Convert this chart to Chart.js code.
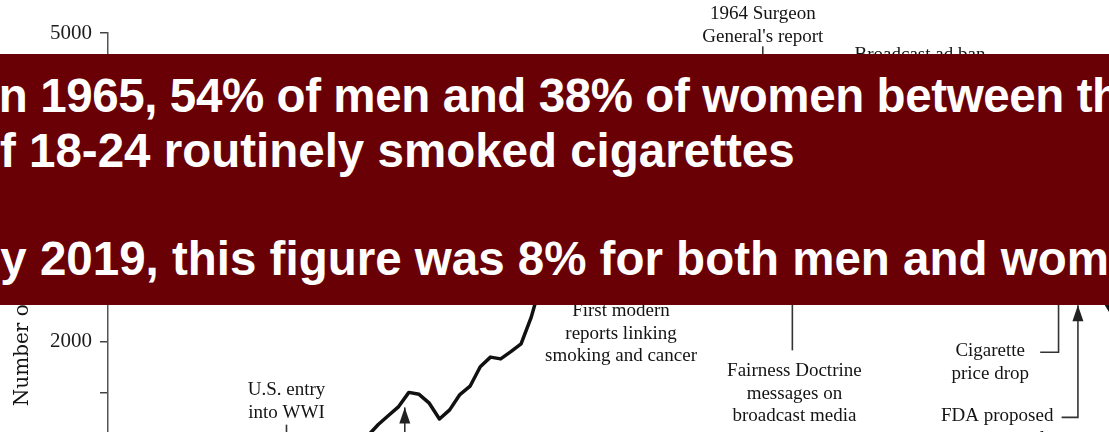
<!DOCTYPE html>
<html>
<head>
<meta charset="utf-8">
<script src="https://cdn.jsdelivr.net/npm/chart.js@4.4.0/dist/chart.umd.min.js"></script>
<style>
html, body { margin: 0; padding: 0; width: 1109px; height: 432px; overflow: hidden; background: #fff; }
#wrap { position: relative; width: 1109px; height: 432px; overflow: hidden; }
#smoking { position: absolute; left: 0; top: 0; }
#banner { position: absolute; left: 0; top: 54px; width: 1109px; height: 251px; background: #690005; overflow: hidden; }
#banner div { position: absolute; white-space: nowrap; color: #fff; font: bold 47.5px "Liberation Sans", Arial, sans-serif; line-height: 48px; }
</style>
</head>
<body>
<div id="wrap">
  <canvas id="smoking" width="1170" height="587"></canvas>
  <div id="banner">
    <div style="left:-14px; top:18px; letter-spacing:-0.4px">In 1965, 54% of men and 38% of women between the ages</div>
    <div style="left:-29px; top:73px">of 18-24 routinely smoked cigarettes</div>
    <div style="left:-34px; top:181px">By 2019, this figure was 8% for both men and women</div>
  </div>
</div>
<script>
// 年份、每人每年香菸數
var years = [1900, 1901, 1902, 1903, 1904, 1905, 1906, 1907, 1908, 1909,
             1910, 1911, 1912, 1913, 1914, 1915, 1916, 1917, 1918, 1919,
             1920, 1921, 1922, 1923, 1924, 1925, 1926, 1927, 1928, 1929,
             1930, 1931, 1932, 1933, 1934, 1935, 1936, 1937, 1938, 1939,
             1940, 1941, 1942, 1943, 1944, 1945, 1946, 1947, 1948, 1949,
             1950, 1951, 1952, 1953, 1954, 1955, 1956, 1957, 1958, 1959,
             1960, 1961, 1962, 1963, 1964, 1965, 1966, 1967, 1968, 1969,
             1970, 1971, 1972, 1973, 1974, 1975, 1976, 1977, 1978, 1979,
             1980, 1981, 1982, 1983, 1984, 1985, 1986, 1987, 1988, 1989,
             1990, 1991, 1992, 1993, 1994, 1995, 1996, 1997, 1998, 1999];
var perCapita = [54, 53, 60, 64, 66, 70, 86, 99, 105, 125,
                 151, 173, 223, 260, 267, 285, 395, 551, 697, 727,
                 665, 742, 770, 911, 982, 1085, 1191, 1279, 1366, 1504,
                 1485, 1399, 1245, 1334, 1483, 1564, 1754, 1847, 1830, 1900,
                 1976, 2236, 2585, 2956, 3039, 3449, 3446, 3416, 3505, 3480,
                 3552, 3744, 3886, 3778, 3546, 3597, 3650, 3755, 3953, 4073,
                 4171, 4266, 4265, 4345, 4194, 4258, 4287, 4280, 4186, 3993,
                 3985, 4037, 4043, 4148, 4141, 4123, 4092, 4051, 3967, 3861,
                 3851, 3840, 3753, 3502, 3446, 3370, 3274, 3197, 3096, 2926,
                 2828, 2727, 2647, 2543, 2524, 2505, 2482, 2423, 2261, 2136];
// 有文字的刻度
var yLabelled = [1000, 2000, 3000, 4000, 5000];
var yTitle = 'Number of cigarettes';

// 事件標註 (年份, 數值)
var notes = [
    { text: ['1964 Surgeon', "General's report"], year: 1963.7, value: 5136, align: 'center' },
    { text: ['Broadcast ad ban'], year: 1972.7, value: 4737, align: 'left' },
    { text: ['U.S. entry', 'into WWI'], year: 1917, value: 1475, align: 'center' },
    { text: ['First modern', 'reports linking', 'smoking and cancer'], year: 1949.8, value: 2244, align: 'center' },
    { text: ['Fairness Doctrine', 'messages on', 'broadcast media'], year: 1966.8, value: 1660, align: 'center' },
    { text: ['Cigarette', 'price drop'], year: 1986, value: 1855, align: 'center' },
    { text: ['FDA proposed', 'rule'], year: 1992.2, value: 1222, align: 'right' }
];
var leaders = [
    { pts: [[1963.7, 4870], [1963.7, 4300]] },
    { pts: [[1917, 1190], [1917, 700]] },
    { pts: [[1928.6, 700], [1928.6, 1358]], arrow: true },
    { pts: [[1966.6, 1913], [1966.6, 2700]] },
    { pts: [[1990.9, 1894], [1992.7, 1894], [1992.7, 2700]] },
    { pts: [[1993.0, 1261], [1994.6, 1261], [1994.6, 2352]], arrow: true }
];

var serif = '"Liberation Serif", "Times New Roman", serif';

var notePlugin = {
    id: 'notes',
    afterDatasetsDraw: function (chart) {
        var ctx = chart.ctx, xs = chart.scales.x, ys = chart.scales.y;
        ctx.save();
        // 連接線、箭頭
        ctx.strokeStyle = '#333';
        ctx.fillStyle = '#222';
        ctx.lineWidth = 1.6;
        leaders.forEach(function (l) {
            ctx.beginPath();
            l.pts.forEach(function (p, i) {
                var px = xs.getPixelForValue(p[0]), py = ys.getPixelForValue(p[1]);
                if (i === 0) ctx.moveTo(px, py); else ctx.lineTo(px, py);
            });
            ctx.stroke();
            if (l.arrow) {
                var last = l.pts[l.pts.length - 1];
                var ax = xs.getPixelForValue(last[0]), ay = ys.getPixelForValue(last[1]);
                ctx.beginPath();
                ctx.moveTo(ax, ay);
                ctx.lineTo(ax - 5.5, ay + 16);
                ctx.lineTo(ax + 5.5, ay + 16);
                ctx.closePath();
                ctx.fill();
            }
        });
        // 文字
        ctx.fillStyle = '#141414';
        ctx.font = '19px ' + serif;
        ctx.textBaseline = 'alphabetic';
        notes.forEach(function (n) {
            var px = xs.getPixelForValue(n.year), py = ys.getPixelForValue(n.value);
            ctx.textAlign = n.align;
            n.text.forEach(function (t, i) {
                ctx.fillText(t, px, py + i * 22.5);
            });
        });
        // y軸標題
        ctx.font = '20px "DejaVu Serif", serif';
        ctx.textAlign = 'left';
        ctx.translate(28, ys.getPixelForValue(1370));
        ctx.rotate(-Math.PI / 2);
        ctx.fillText(yTitle, 0, 0);
        ctx.restore();
    }
};

var smoking = document.getElementById('smoking');
var smokingChart = new Chart(smoking, {
    type: 'line',
    data: {
        datasets: [{
            data: years.map(function (y, i) { return { x: y, y: perCapita[i] }; }),
            borderColor: '#111',
            borderWidth: 3.5,
            borderJoinStyle: 'round',
            pointRadius: 0,
            tension: 0,
            fill: false
        }]
    },
    options: {
        responsive: false,
        animation: false,
        layout: { padding: { top: 33, left: 0, right: 37, bottom: 0 } },
        plugins: {
            legend: { display: false },
            tooltip: { enabled: false }
        },
        scales: {
            x: {
                type: 'linear',
                min: 1899.5,
                max: 2000,
                afterFit: function (s) { s.height = 40; },
                ticks: { stepSize: 10, color: '#222', font: { family: serif, size: 21 } },
                grid: { drawOnChartArea: false, tickLength: 8, color: '#444', lineWidth: 1.5 },
                border: { color: '#555', width: 1.5 }
            },
            y: {
                min: 0,
                max: 5000,
                afterFit: function (s) { s.width = 108; },
                ticks: {
                    stepSize: 500,
                    padding: 8,
                    color: '#1c1c1c',
                    font: { family: serif, size: 21 },
                    callback: function (value) {
                        return yLabelled.indexOf(value) >= 0 ? value : '';
                    }
                },
                // 無網格, 只留刻度
                grid: { drawOnChartArea: false, tickLength: 8, color: '#444', lineWidth: 1.5 },
                border: { color: '#555', width: 1.5 }
            }
        }
    },
    plugins: [notePlugin]
});
</script>
</body>
</html>
